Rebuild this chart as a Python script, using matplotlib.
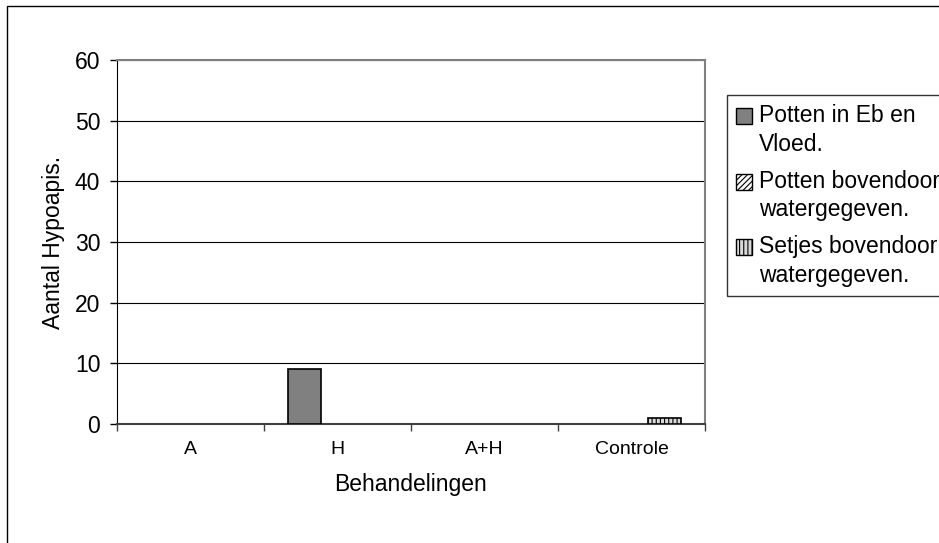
import matplotlib
matplotlib.use('Agg')
import matplotlib.pyplot as plt
from matplotlib.patches import Patch, Rectangle
from matplotlib.legend_handler import HandlerPatch
import numpy as np

# data
categories = ['A', 'H', 'A+H', 'Controle']
series_names = ['Potten in Eb en\nVloed.',
                'Potten bovendoorn\nwatergegeven.',
                'Setjes bovendoorn\nwatergegeven.']
eb_vloed = [0, 9, 0, 0]
potten_boven = [0, 0, 0, 0]
setjes_boven = [0, 0, 0, 1]

plt.rcParams['font.family'] = ['Liberation Sans', 'DejaVu Sans']
plt.rcParams['hatch.linewidth'] = 0.8

fig = plt.figure(figsize=(9.39, 5.43), dpi=100)
ax = fig.add_axes([117 / 939, 1 - 424 / 543, (705 - 117) / 939, (424 - 60) / 543])

# outer chart border (clipped by the image on right and bottom)
fig.patches.append(Rectangle((7 / 939, -0.1), 1.2, 1 - 6 / 543 + 0.1,
                             transform=fig.transFigure, fill=False,
                             edgecolor='black', linewidth=1.0))

x = np.arange(len(categories))
w = 0.225
styles = [dict(facecolor='#808080', hatch=None),
          dict(facecolor='white', hatch='//////'),
          dict(facecolor='#d9d9d9', hatch='||||')]
values = [eb_vloed, potten_boven, setjes_boven]

for i, (vals, st) in enumerate(zip(values, styles)):
    vals = np.array(vals, dtype=float)
    mask = vals > 0
    ax.bar(x[mask] + (i - 1) * w, vals[mask], width=w,
           facecolor=st['facecolor'], hatch=st['hatch'],
           edgecolor='black', linewidth=1.2, zorder=3)

ax.set_xlim(-0.5, 3.5)
ax.set_ylim(0, 60)
ax.set_yticks(range(0, 61, 10))
ax.set_xticks(x)
ax.set_xticklabels(categories, fontsize=14)
ax.set_xticks(np.arange(-0.5, 4, 1), minor=True)
ax.tick_params(axis='x', which='major', length=0, pad=12)
ax.tick_params(axis='x', which='minor', length=5, width=1, color='#404040')
ax.tick_params(axis='y', length=5, width=1, labelsize=16.5, pad=7)

ax.grid(axis='y', color='black', linewidth=0.8, zorder=0)
ax.set_axisbelow(True)
for side in ['top', 'right']:
    ax.spines[side].set_color('#808080')
    ax.spines[side].set_linewidth(1.5)
ax.spines['left'].set_color('black')
ax.spines['bottom'].set_color('#404040')
ax.spines['bottom'].set_linewidth(1.5)

ax.set_xlabel('Behandelingen', fontsize=16.5, labelpad=11)
ax.set_ylabel('Aantal Hypoapis.', fontsize=16.5, labelpad=7)


# legend square sits next to the first line of each entry
def top_square(legend, orig_handle, xdescent, ydescent, width, height, fontsize):
    return Rectangle((-xdescent, -ydescent + 0.65 * fontsize), width, height)


handles = [Patch(facecolor=st['facecolor'], hatch=st['hatch'],
                 edgecolor='black', linewidth=1.0) for st in styles]
leg = fig.legend(handles, series_names, loc='upper left',
                 bbox_to_anchor=(727 / 939, 1 - 95 / 543),
                 fontsize=16.5, frameon=True, fancybox=False,
                 handlelength=0.7, handleheight=0.7, handletextpad=0.28,
                 labelspacing=0.62, borderpad=0.4, borderaxespad=0,
                 handler_map={Patch: HandlerPatch(patch_func=top_square)})
for t in leg.get_texts():
    t.set_linespacing(1.3)
leg.get_frame().set_edgecolor('black')
leg.get_frame().set_linewidth(1.0)

fig.savefig('out.png', dpi=100)
